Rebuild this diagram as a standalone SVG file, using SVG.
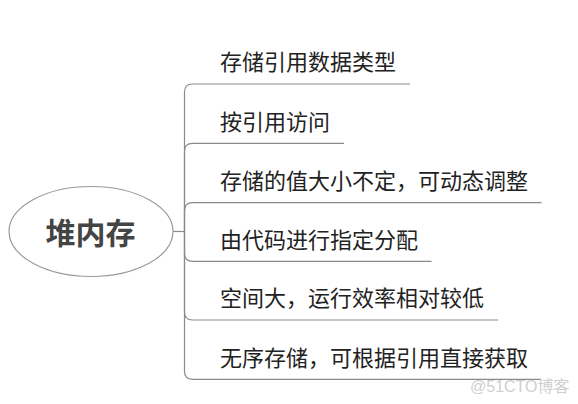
<svg xmlns="http://www.w3.org/2000/svg" width="578" height="404" viewBox="0 0 578 404">
<style>
.t{font-family:"Noto Sans CJK SC","Noto Sans",sans-serif;font-size:22px;fill:#222}
.c{fill:none;stroke:#8a8a8a;stroke-width:1.2}
.wm{font-family:"Liberation Sans","Noto Sans CJK SC",sans-serif;font-size:16px;fill:#cfcfcf}
</style>
<rect width="578" height="404" fill="#fff"/>
<g id="connectors">
<path class="c" d="M173,231.5 H184.5"/>
<path class="c" d="M184.5,231.5 V92 Q184.5,84 192.5,84 H410"/>
<path class="c" d="M184.5,231.5 V151.3 Q184.5,143.3 192.5,143.3 H344"/>
<path class="c" d="M184.5,231.5 V210.7 Q184.5,202.7 192.5,202.7 H541.5"/>
<path class="c" d="M184.5,231.5 V253.3 Q184.5,261.3 192.5,261.3 H431.5"/>
<path class="c" d="M184.5,231.5 V312 Q184.5,320 192.5,320 H498"/>
<path class="c" d="M184.5,231.5 V371.3 Q184.5,379.3 192.5,379.3 H541"/>
</g>
<g id="root">
<ellipse cx="91" cy="231.5" rx="82" ry="45" fill="#fff" stroke="#9a9a9a" stroke-width="1.2"/>
<text x="90.5" y="244" text-anchor="middle" font-family="'Noto Sans CJK SC','Noto Sans',sans-serif" font-size="30" font-weight="bold" fill="#444">堆内存</text>
</g>
<g id="n1"><text class="t" x="220" y="70.4">存储引用数据类型</text></g>
<g id="n2"><text class="t" x="220" y="129.7">按引用访问</text></g>
<g id="n3"><text class="t" x="220" y="189.1">存储的值大小不定，可动态调整</text></g>
<g id="n4"><text class="t" x="220" y="247.7">由代码进行指定分配</text></g>
<g id="n5"><text class="t" x="220" y="306.4">空间大，运行效率相对较低</text></g>
<g id="n6"><text class="t" x="220" y="365.7">无序存储，可根据引用直接获取</text></g>
<text class="wm" x="470" y="392">@51CTO博客</text>
</svg>
